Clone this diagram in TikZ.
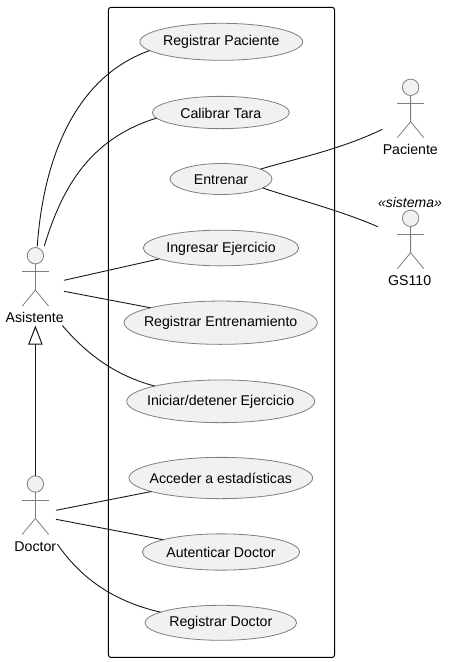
\documentclass[tikz,border=0pt]{standalone}
\usepackage{fontspec}
\setmainfont{Liberation Sans}
\usetikzlibrary{shapes.geometric,calc,arrows.meta}
\definecolor{ufill}{HTML}{F1F1F1}
\definecolor{uline}{HTML}{7F7F7F}
\definecolor{cline}{HTML}{181818}
\tikzset{
  uc/.style={ellipse,draw=uline,fill=ufill,line width=.8pt,inner sep=0pt,outer sep=0pt,
    label={[lbl,yshift=-.5pt]center:#1}},
  lbl/.style={inner sep=0pt,font=\fontsize{14.15}{16}\selectfont,text=black},
  conn/.style={draw=cline,line width=.9pt},
  limb/.style={draw=uline,line width=.8pt},
  head/.style={circle,draw=uline,fill=ufill,line width=.8pt,minimum size=16.4pt,inner sep=0pt,outer sep=0pt},
}
\newcommand{\stick}[3]{% name, x, y of head centre
  \node[head] (#1h) at (#2,#3) {};
  \draw[limb] (#1h.south) -- (#2,#3+34.4) -- (#2-13.2,#3+50.4);
  \draw[limb] (#2,#3+34.4) -- (#2+13.2,#3+50.4);
  \draw[limb] (#2-13.2,#3+16) -- (#2+13.2,#3+16);
}
\begin{document}
\begin{tikzpicture}[x=1pt,y=-1pt]
\useasboundingbox (0,0) rectangle (448,662);
\fill[white] (0,0) rectangle (448,662);
\draw[draw=black,line width=1pt,rounded corners=2.5pt] (108.4,7.4) rectangle (334.6,657.4);
\node[uc={Registrar Paciente},minimum width=162.7pt,minimum height=37pt] (rp) at (221.3,41.8) {};
\node[uc={Calibrar Tara},minimum width=137pt,minimum height=32.3pt] (ct) at (220.8,112.5) {};
\node[uc={Entrenar},minimum width=102pt,minimum height=31pt] (en) at (221,179) {};
\node[uc={Ingresar Ejercicio},minimum width=155.5pt,minimum height=35.7pt] (ie) at (221,248) {};
\node[uc={Registrar Entrenamiento},minimum width=193.3pt,minimum height=43.3pt] (re) at (220.7,322.7) {};
\node[uc={Iniciar/detener Ejercicio},minimum width=188pt,minimum height=42.7pt] (id) at (220.7,401.3) {};
\node[uc={Acceder a estadísticas},minimum width=183.7pt,minimum height=41.3pt] (ae) at (220.8,478) {};
\node[uc={Autenticar Doctor},minimum width=157.3pt,minimum height=36.3pt] (ad) at (221,552) {};
\node[uc={Registrar Doctor},minimum width=151.7pt,minimum height=35pt] (rd) at (220.8,622.8) {};
\stick{asis}{35.4}{255.7}
\stick{doc}{35.4}{484}
\stick{pac}{410.6}{87.3}
\stick{gs}{410.6}{218.3}
\node[lbl] (asisl) at (34.7,317) {Asistente};
\node[lbl] (docl) at (35.3,546.3) {Doctor};
\node[lbl] (pacl) at (410.3,149.3) {Paciente};
\node[lbl] (gsl) at (409.7,281) {GS110};
\node[lbl,font=\fontsize{14}{16}\selectfont\itshape] (gss) at (410,202.3) {«sistema»};
\coordinate (a1) at (37.2,246.7);
\coordinate (a2) at (44.3,246);
\coordinate (a3) at (64,280.3);
\coordinate (a4) at (64,291.3);
\coordinate (a5) at (62.3,325.5);
\coordinate (tip) at (35.4,325.5);
\coordinate (d1) at (56,510.3);
\coordinate (d2) at (56,519.3);
\coordinate (d3) at (57.3,544);
\coordinate (p1) at (382.3,129.3);
\coordinate (g1) at (377.7,226.7);
\draw[conn] (a1) .. controls (44,150) and (80,75) .. (rp.187.1);
\draw[conn] (a2) .. controls (60,195) and (85,140) .. (ct.185.6);
\draw[conn] (a3) -- (ie.190.9);
\draw[conn] (a4) -- (re.168.7);
\draw[conn] (a5) .. controls (85,352) and (113,375) .. (id.167.8);
\draw[conn] (d1) -- (ae.191.5);
\draw[conn] (d2) -- (ad.168.7);
\draw[conn] (d3) .. controls (80,577) and (112,601) .. (rd.170.2);
\draw[conn] (en.14.1) .. controls (290,160) and (340,150) .. (p1);
\draw[conn] (en.-12.9) .. controls (285,196) and (340,210) .. (g1);
\draw[conn,-{Triangle[open,length=19pt,width=14.3pt,line width=1pt]}] (doch.north) -- (tip);
\end{tikzpicture}
\end{document}
